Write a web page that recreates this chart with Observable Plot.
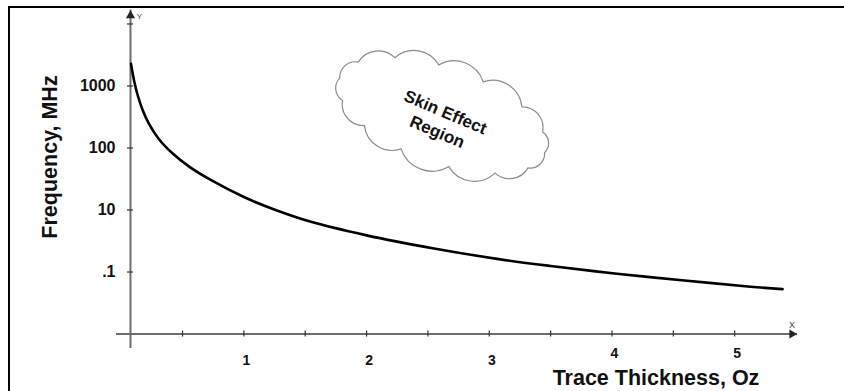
<!DOCTYPE html>
<html><head><meta charset="utf-8">
<script src="https://cdn.jsdelivr.net/npm/d3@7"></script>
<script src="https://cdn.jsdelivr.net/npm/@observablehq/plot@0.6"></script>
<style>
body{margin:0;background:#fff;}
#wrap{position:relative;width:844px;height:391px;overflow:hidden;background:#fff;}
#wrap svg{position:absolute;left:0;top:0;}
#border{position:absolute;left:8px;top:6px;right:-10px;bottom:-10px;border-top:2px solid #000;border-left:2px solid #000;z-index:2;pointer-events:none;}
</style></head>
<body><div id="wrap"><div id="border"></div></div>
<script>
// Curve: trace thickness (oz) vs frequency (MHz)
const thickness = [0.08, 0.106, 0.133, 0.174, 0.228, 0.31, 0.418, 0.554, 0.73, 1.0, 1.27, 1.54, 2.0, 2.55, 3.09, 3.5, 4.04, 4.59, 5.13, 5.39];
const frequency = [2280, 1205, 729, 414, 242, 137, 82, 50, 30.5, 16.2, 9.8, 6.5, 3.9, 2.4, 1.6, 1.25, 0.94, 0.73, 0.58, 0.53];

const xTicks = [0.5, 1, 1.5, 2, 2.5, 3, 3.5, 4, 4.5, 5];
const xLabelValues = [1, 2, 3, 4, 5];
const xLabelTexts = ["1", "2", "3", "4", "5"];
const yTicks = [10000, 1000, 100, 10, 1];
const yTickLabels = ["", "1000", "100", "10", ".1"];

const xTitle = "Trace Thickness, Oz";
const yTitle = "Frequency, MHz";
const xAxisName = "X";
const yAxisName = "Y";
const cloudText = "Skin Effect\nRegion";

// axes extents (data units)
const xMin = -0.038, xMax = 5.512;
const yMin = 0.0584, yMax = 16800;
const yAxisAt = 0.076;   // x value where the vertical axis sits
const xAxisAt = 0.1;     // y value where the horizontal axis sits
const cloudCenter = [{x: 2.62, y: 330}];
const cloudLabel = [{x: 2.613, y: 272, text: cloudText}];
const cloudBumps = [0, 0.07, 0.14, 0.215, 0.29, 0.36, 0.43, 0.5, 0.575, 0.65, 0.72, 0.79, 0.865, 0.935];

const curve = thickness.map((t, i) => ({t, f: frequency[i]}));
const xLabels = xLabelValues.map((v, i) => ({v, s: xLabelTexts[i]}));
const yLabels = yTicks.map((v, i) => ({v, s: yTickLabels[i]}));

function cloudMark(index, scales) {
  const cx = scales.x(cloudCenter[0].x), cy = scales.y(cloudCenter[0].y);
  const rx = 109, ry = 47, rot = 20 * Math.PI / 180;
  const pts = cloudBumps.map(f => {
    const a = f * 2 * Math.PI;
    const ex = rx * Math.cos(a), ey = ry * Math.sin(a);
    return [cx + ex * Math.cos(rot) - ey * Math.sin(rot), cy + ex * Math.sin(rot) + ey * Math.cos(rot)];
  });
  let d = `M${pts[0][0]},${pts[0][1]}`;
  for (let i = 0; i < pts.length; i++) {
    const p = pts[i], q = pts[(i + 1) % pts.length];
    const c = Math.hypot(q[0] - p[0], q[1] - p[1]);
    const r = c * 0.64;
    d += `A${r},${r} 0 0 1 ${q[0]},${q[1]}`;
  }
  d += "Z";
  const path = document.createElementNS("http://www.w3.org/2000/svg", "path");
  path.setAttribute("d", d);
  path.setAttribute("fill", "#fff");
  path.setAttribute("stroke", "#8c8c8c");
  path.setAttribute("stroke-width", "1.2");
  return path;
}

const font = "'Liberation Sans', Arial, Helvetica, sans-serif";

const plot = Plot.plot({
  width: 844,
  height: 391,
  marginTop: 0, marginRight: 0, marginBottom: 0, marginLeft: 0,
  style: {fontFamily: font, background: "transparent"},
  x: {domain: [xMin, xMax], range: [116, 797], axis: null},
  y: {type: "log", domain: [yMin, yMax], range: [348, 9.5], axis: null},
  marks: [
    cloudMark,
    // axis lines
    Plot.ruleX([{x: yAxisAt}], {x: "x", y1: yMin, y2: yMax, stroke: "#6e6e6e", strokeWidth: 2}),
    Plot.ruleY([{y: xAxisAt}], {y: "y", x1: xMin, x2: xMax, stroke: "#6e6e6e", strokeWidth: 2}),
    // ticks
    Plot.ruleY(yTicks, {y: d => d, x1: yAxisAt, x2: yAxisAt, insetLeft: -3, insetRight: -3, stroke: "#333", strokeWidth: 1.2}),
    Plot.ruleX(xTicks, {x: d => d, y1: xAxisAt, y2: xAxisAt, insetTop: -3, insetBottom: -3, stroke: "#333", strokeWidth: 1.2}),
    // arrows
    Plot.dot([{x: yAxisAt, y: yMax}], {x: "x", y: "y", symbol: "triangle", r: 3.4, fill: "#222", stroke: null, dy: 5.5}),
    Plot.dot([{x: xMax, y: xAxisAt}], {x: "x", y: "y", symbol: "triangle", r: 3.4, fill: "#222", stroke: null, rotate: 90, dx: -5.5}),
    Plot.text([{x: yAxisAt, y: yMax, s: yAxisName}], {x: "x", y: "y", text: "s", dx: 9, dy: 6, fontSize: 8, fill: "#444"}),
    Plot.text([{x: xMax, y: xAxisAt, s: xAxisName}], {x: "x", y: "y", text: "s", dx: -5.5, dy: -9, fontSize: 9, fill: "#444"}),
    // tick labels
    Plot.text(yLabels, {x: () => yAxisAt, y: "v", text: "s", textAnchor: "end", dx: -15, fontSize: 16, fontWeight: "bold", fill: "#111"}),
    Plot.text(xLabels.filter(d => d.v <= 3), {x: "v", y: () => xAxisAt, text: "s", dx: 2.5, dy: 27, fontSize: 14, fontWeight: "bold", fill: "#111"}),
    Plot.text(xLabels.filter(d => d.v > 3), {x: "v", y: () => xAxisAt, text: "s", dx: 2.5, dy: 20, fontSize: 14, fontWeight: "bold", fill: "#111"}),
    // curve
    Plot.line(curve, {x: "t", y: "f", stroke: "#000", strokeWidth: 2.6, curve: "catmull-rom"}),
    // cloud label
    Plot.text(cloudLabel, {x: "x", y: "y", text: "text", rotate: 23, fontSize: 17, fontWeight: "bold", lineHeight: 1.25, fill: "#111"}),
    // axis titles
    Plot.text([yTitle], {text: d => d, frameAnchor: "left", textAnchor: "middle", rotate: -90, lineAnchor: "bottom", dx: 56, dy: -39, fontSize: 21.5, fontWeight: "bold", fill: "#111"}),
    Plot.text([xTitle], {text: d => d, frameAnchor: "bottom", textAnchor: "middle", lineAnchor: "bottom", dx: 233.5, dy: -7, fontSize: 21.5, fontWeight: "bold", fill: "#111"})
  ]
});
document.getElementById("wrap").insertBefore(plot, document.getElementById("border"));
</script>
</body></html>
